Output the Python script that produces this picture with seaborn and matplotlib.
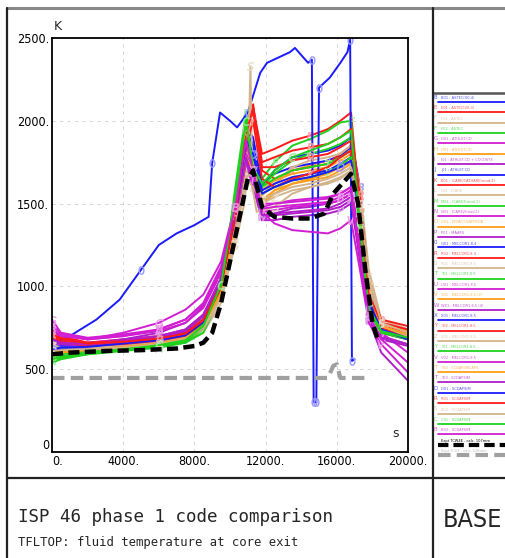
import numpy as np
import pandas as pd
import matplotlib
matplotlib.use("Agg")
import matplotlib.pyplot as plt
from matplotlib.lines import Line2D
import matplotlib.colors as mcolors
import seaborn as sns

# ---------------------------------------------------------------- data
# common time base (s) for most code results
t_grid = [0, 500, 2000, 4000, 6000, 7500, 8500, 9500, 10300, 10900, 11300, 11800,
          12500, 13500, 14500, 15500, 16200, 16800, 17300, 17800, 18500, 20000]

code_labels = [
    "B01 : ASTEC(V0.4)", "E01 : ASTEC(V0.3)", "F01 : ASTEC", "F02 : ASTEC",
    "G01 : ATHLET-CD", "H01 : ATHLET-CD", "I01 : ATHLET-CD + COCOSYS", "J01 : ATHLET-CD",
    "K01 : ICARE/CATHARE(mod.2)", "L01 : ICARE", "M01 : ICARE2(mod.1)", "N01 : ICARE2(mod.1)",
    "O01 : EPFACT-SAFFRON", "P01 : MAAP4", "Q01 : MELCOR1.8.4", "R02 : MELCOR1.8.4",
    "S01 : MELCOR1.8.5", "T01 : MELCOR1.8.5", "U01 : MELCOR1.8.5", "V01 : MELCOR1.8.5 (2)",
    "W01 : MELCOR1.8.5 (4)", "X01 : MELCOR1.8.5", "Y02 : MELCOR1.8.5", "Z01 : MELCOR1.8.5",
    "Y01 : MELCOR1.8.5", "V02 : MELCOR1.8.5", "T02 : SCDAP-RELAP5", "T03 : SCDAPSIM",
    "D01 : SCDAPSIM", "R01 : SCDAPSIM", "S02 : SCDAPSIM", "C01 : SCDAPSIM", "B02 : SCDAPSIM",
]
code_marks = ["B", "E", "F", "F", "G", "H", "I", "J", "K", "L", "M", "N", "O", "P", "0", "R",
              "S", "T", "U", "V", "W", "X", "Y", "Z", "Y", "V", "T", "T", "D", "R", "S", "C", "B"]

# values on t_grid (K); None marks a curve given on its own time base below
code_values = [
    [600, 610, 620, 640, 660, 690, 760, 980, 1450, 1950, 1900, 1600, 1700, 1780, 1800, 1820, 1850, 1900, 1600, 1000, 750, 700],
    [740, 700, 660, 680, 700, 730, 820, 1050, 1500, 2000, 2080, 1800, 1830, 1880, 1910, 1950, 2000, 2050, 1450, 950, 780, 740],
    [650, 640, 630, 640, 650, 670, 720, 900, 1300, 1800, 1600, 1500, 1580, 1650, 1680, 1700, 1720, 1750, 1500, 900, 700, 650],
    [560, 580, 600, 620, 640, 660, 720, 950, 1600, 2050, 1700, 1650, 1750, 1850, 1890, 1940, 1990, 2000, 1400, 850, 720, 680],
    [800, 720, 680, 720, 780, 860, 950, 1150, 1500, 1900, 1750, 1480, 1500, 1520, 1530, 1540, 1560, 1600, 1300, 900, 750, 700],
    [620, 630, 630, 650, 670, 700, 780, 1000, 1450, 1850, 1800, 1550, 1620, 1700, 1730, 1760, 1790, 1820, 1550, 1000, 780, 720],
    [700, 650, 640, 660, 690, 720, 800, 1000, 1350, 1750, 1600, 1400, 1440, 1470, 1480, 1500, 1520, 1560, 1200, 800, 700, 650],
    [630, 640, 640, 660, 680, 710, 800, 1050, 1500, 1950, 1850, 1620, 1680, 1720, 1740, 1760, 1790, 1840, 1500, 950, 760, 700],
    [700, 680, 650, 660, 680, 710, 790, 1000, 1400, 1900, 2100, 1700, 1650, 1700, 1720, 1740, 1800, 1850, 1400, 900, 760, 720],
    [600, 610, 620, 630, 650, 680, 760, 950, 1350, 1700, 1650, 1550, 1620, 1720, 1760, 1780, 1800, 1850, 1600, 1100, 800, 740],
    [550, 570, 590, 610, 630, 660, 740, 1000, 1550, 1950, 1650, 1600, 1680, 1760, 1800, 1830, 1860, 1900, 1450, 900, 740, 690],
    [650, 660, 660, 680, 700, 740, 830, 1050, 1400, 1800, 1700, 1450, 1460, 1480, 1490, 1500, 1520, 1560, 1250, 850, 720, 600],
    [580, 600, 610, 630, 650, 680, 760, 980, 1400, 1850, 1700, 1580, 1640, 1680, 1700, 1720, 1760, 1800, 1500, 950, 760, 700],
    [680, 660, 650, 680, 720, 780, 880, 1100, 1450, 1850, 1650, 1400, 1400, 1420, 1430, 1440, 1460, 1500, 1200, 800, 600, 430],
    None,
    [720, 690, 660, 670, 690, 720, 800, 1020, 1450, 1950, 2050, 1750, 1780, 1820, 1840, 1860, 1900, 1950, 1550, 1000, 800, 760],
    None,
    [540, 560, 590, 615, 640, 670, 750, 1000, 1500, 1900, 1750, 1600, 1650, 1700, 1720, 1740, 1780, 1820, 1400, 880, 730, 690],
    [720, 700, 680, 700, 730, 780, 870, 1080, 1400, 1750, 1600, 1500, 1500, 1510, 1520, 1530, 1560, 1600, 1250, 850, 720, 680],
    [600, 610, 620, 640, 660, 690, 770, 990, 1420, 1800, 1750, 1500, 1560, 1620, 1650, 1680, 1720, 1760, 1500, 1000, 780, 730],
    [660, 650, 640, 660, 690, 730, 820, 1030, 1380, 1760, 1650, 1420, 1430, 1440, 1450, 1460, 1480, 1520, 1150, 800, 680, 640],
    [610, 620, 630, 650, 670, 700, 780, 1000, 1450, 1900, 1800, 1580, 1620, 1660, 1680, 1700, 1740, 1780, 1450, 920, 750, 690],
    [690, 670, 640, 650, 670, 700, 780, 990, 1400, 1850, 2000, 1650, 1600, 1650, 1680, 1720, 1780, 1820, 1350, 880, 750, 700],
    [640, 630, 630, 640, 660, 690, 760, 940, 1300, 1650, 1600, 1500, 1540, 1580, 1600, 1620, 1650, 1700, 1450, 1000, 760, 700],
    [570, 590, 610, 630, 650, 680, 770, 1020, 1500, 1900, 1700, 1560, 1600, 1640, 1660, 1690, 1730, 1780, 1350, 850, 720, 680],
    [760, 720, 690, 710, 740, 800, 890, 1100, 1450, 1800, 1700, 1450, 1380, 1340, 1330, 1320, 1350, 1400, 1100, 780, 650, 480],
    [590, 600, 615, 635, 655, 685, 760, 960, 1380, 1780, 1700, 1520, 1580, 1620, 1640, 1660, 1700, 1740, 1450, 950, 760, 710],
    [680, 660, 650, 670, 700, 740, 830, 1050, 1400, 1780, 1650, 1430, 1440, 1450, 1460, 1470, 1500, 1540, 1180, 820, 690, 650],
    [620, 630, 635, 655, 675, 705, 785, 1010, 1430, 1880, 1800, 1560, 1600, 1640, 1660, 1690, 1720, 1760, 1420, 900, 740, 680],
    [710, 685, 655, 665, 685, 715, 795, 1010, 1430, 1920, 2080, 1720, 1720, 1760, 1780, 1800, 1840, 1880, 1450, 950, 780, 740],
    [610, 615, 620, 630, 650, 680, 750, 930, 1300, 1650, 1700, 1520, 1560, 1600, 1620, 1650, 1680, 1720, 1500, 1050, 780, 720],
    [560, 575, 600, 620, 645, 675, 760, 1010, 1550, 2000, 1720, 1620, 1700, 1780, 1820, 1860, 1900, 1940, 1380, 870, 730, 690],
    [740, 710, 680, 700, 740, 800, 900, 1120, 1480, 1880, 1700, 1470, 1480, 1490, 1500, 1510, 1540, 1580, 1200, 820, 680, 540],
]

# Q01 blue curve (own time base)
q01_t = [0, 1000, 2500, 3800, 5000, 6000, 7000, 8000, 8800, 9000, 9440, 10000, 10400, 11000,
         11700, 12080, 13375, 13650, 14100, 14390, 14600, 14700, 14850, 15000, 15600, 16200,
         16600, 16750, 16850, 17000]
q01_v = [650, 700, 800, 920, 1100, 1250, 1320, 1370, 1420, 1745, 2050, 2000, 1960, 2050,
         2290, 2350, 2415, 2440, 2385, 2350, 2370, 300, 300, 2200, 2260, 2350,
         2415, 2490, 550, 560]

# S01 tan curve with the short spike
s01_t = [0, 2000, 4000, 6000, 7500, 8500, 9500, 10300, 10800, 11000, 11150, 11250, 11500,
         12500, 13500, 14500, 15500, 16200, 16800, 17300, 17800, 18500, 20000]
s01_v = [620, 625, 635, 650, 675, 740, 930, 1250, 1500, 1700, 2330, 1600, 1450,
         1480, 1560, 1600, 1630, 1660, 1700, 1450, 950, 760, 700]

# experimental traces
exp1_label = "Expt TCW4E - calc. 107mm"
exp1_t = [0, 1000, 3000, 5000, 7000, 8000, 8500, 9000, 9500, 10000, 10500, 11000, 11300,
          11800, 12500, 13500, 14500, 15300, 15800, 16300, 16800, 17200, 17600, 18000, 18300]
exp1_v = [590, 600, 610, 615, 625, 640, 660, 720, 900, 1150, 1400, 1650, 1700,
          1480, 1420, 1410, 1410, 1440, 1560, 1620, 1680, 1500, 1100, 780, 680]
exp2_label = "Expt TCXX - calc. 128mm"
exp2_t = [0, 5000, 10000, 15500, 15800, 16000, 16200, 17600]
exp2_v = [447, 447, 447, 447, 520, 530, 447, 447]

x_ticks = [0, 4000, 8000, 12000, 16000, 20000]
x_tick_labels = ["0.", "4000.", "8000.", "12000.", "16000.", "20000."]
y_ticks = [0, 500, 1000, 1500, 2000, 2500]
y_tick_labels = ["0", "500.", "1000.", "1500.", "2000.", "2500."]

title = "ISP 46 phase 1 code comparison"
subtitle = "TFLTOP: fluid temperature at core exit"
tag = "BASE"

palette = ["#1a1aff", "#ff1a1a", "#d2b48c", "#1ed21e", "#d21ed2", "#ff9f1a", "#b01ec8"]

# ---------------------------------------------------------------- figure
sns.set_style("white")
plt.rcParams["font.family"] = ["DejaVu Sans"]
W, H = 505, 558
fig = plt.figure(figsize=(W / 100, H / 100), dpi=100)


def fx(px):
    return px / W


def fy(py):
    return 1 - py / H


def light(c, f=0.55):
    r, g, b = mcolors.to_rgb(c)
    return (r + (1 - r) * f, g + (1 - g) * f, b + (1 - b) * f)


narrow = ["Liberation Sans Narrow", "DejaVu Sans"]

# frame of the sheet
frame_kw = dict(color="#222222", lw=1.6, transform=fig.transFigure)
fig.add_artist(Line2D([fx(7), 1], [fy(8), fy(8)], color="#888888", lw=2.2, transform=fig.transFigure))
fig.add_artist(Line2D([fx(7), fx(7)], [fy(8), 0], **frame_kw))
fig.add_artist(Line2D([fx(433), fx(433)], [fy(8), 0], **frame_kw))
fig.add_artist(Line2D([fx(7), 1], [fy(478), fy(478)], **frame_kw))

# main plot
ax = fig.add_axes([fx(52), fy(452), fx(408) - fx(52), fy(38) - fy(452)])
ax.set_facecolor("white")

for i, (lab, mk, vals) in enumerate(zip(code_labels, code_marks, code_values)):
    col = palette[i % len(palette)]
    if lab.startswith("Q01"):
        tt, vv = q01_t, q01_v
    elif lab.startswith("S01"):
        tt, vv = s01_t, s01_v
    else:
        tt, vv = t_grid, vals
    sns.lineplot(x=tt, y=vv, ax=ax, color=col, lw=1.4, sort=False, estimator=None,
                 marker=f"${mk}$", markersize=6, markevery=0.22,
                 markeredgecolor=light(col), markerfacecolor=light(col), markeredgewidth=0.3)

sns.lineplot(x=exp2_t, y=exp2_v, ax=ax, color="#a0a0a0", lw=3, sort=False, estimator=None,
             dashes=False, linestyle=(0, (3, 1.5)))
sns.lineplot(x=exp1_t, y=exp1_v, ax=ax, color="black", lw=3.2, sort=False, estimator=None,
             dashes=False, linestyle=(0, (2.5, 1.2)))

ax.set_xlim(0, 20000)
ax.set_ylim(0, 2500)
ax.set_xticks(x_ticks)
ax.set_xticklabels(x_tick_labels)
ax.set_yticks(y_ticks)
ax.set_yticklabels(y_tick_labels)
ax.set_xticks(np.arange(0, 20001, 400), minor=True)
ax.set_yticks(np.arange(0, 2501, 100), minor=True)
ax.tick_params(axis="both", which="both", direction="in", colors="black",
               labelsize=9, pad=2, width=1.0)
ax.tick_params(which="major", length=5)
ax.tick_params(which="minor", length=3.5)
ax.tick_params(top=False, right=False)
ax.set_xlabel("")
ax.set_ylabel("")
for lbl in ax.get_xticklabels() + ax.get_yticklabels():
    lbl.set_family(narrow)
    lbl.set_fontstretch("condensed")
ax.get_xticklabels()[0].set_horizontalalignment("left")
ax.get_yticklabels()[0].set_verticalalignment("bottom")
ax.grid(True, which="major", color="#cfcfcf", lw=0.6, linestyle=(0, (4, 5)))
for s in ax.spines.values():
    s.set_color("black")
    s.set_linewidth(1.3)

fig.text(fx(54), fy(30), "K", fontsize=9, ha="left", va="baseline")
ax.text(0.975, 0.03, "s", transform=ax.transAxes, fontsize=9, ha="right", va="bottom")

# legend column
leg = fig.add_axes([fx(434), fy(462), fx(505) - fx(434), fy(92) - fy(462)])
leg.set_xlim(0, 1)
n_rows = len(code_labels) + 2
leg.set_ylim(n_rows + 0.2, -0.4)
leg.axis("off")
leg.plot([0, 1], [-0.3, -0.3], color="#555555", lw=1.8)
entries = [(lab, palette[i % len(palette)], mk, "-") for i, (lab, mk) in
           enumerate(zip(code_labels, code_marks))]
entries += [(exp1_label, "black", "", (0, (2.5, 1.2))), (exp2_label, "#a0a0a0", "", (0, (3, 1.5)))]
for i, (lab, col, mk, ls) in enumerate(entries):
    lw = 1.3 if ls == "-" else 3
    leg.plot([0.05, 1], [i + 0.55, i + 0.55], color=col, lw=lw, linestyle=ls)
    leg.text(0.1, i + 0.15, lab, fontsize=2.6, color=light(col, 0.25) if col != "black" else "black",
             ha="left", va="center")
    if mk:
        leg.text(0.0, i + 0.1, mk, fontsize=4, color=light(col, 0.3), ha="left", va="center")

# title block
fig.text(fx(18), fy(522), title, fontsize=12.6, family="DejaVu Sans Mono", ha="left", va="baseline")
fig.text(fx(18), fy(546), subtitle, fontsize=8.8, family="DejaVu Sans Mono", ha="left", va="baseline")
fig.text(fx(472), fy(520), tag, fontsize=18, family=narrow, fontstretch="condensed",
         ha="center", va="center")

fig.savefig("out.png", dpi=100)
